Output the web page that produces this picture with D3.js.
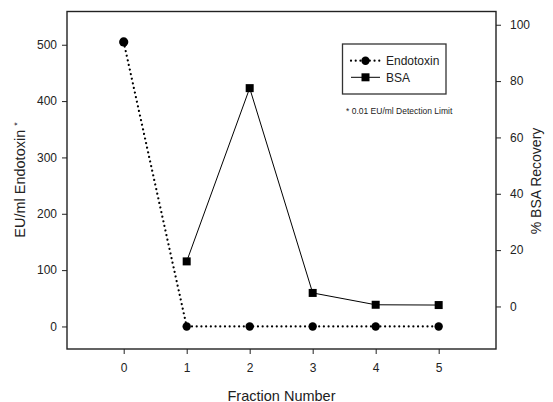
<!DOCTYPE html>
<html>
<head>
<meta charset="utf-8">
<script src="https://cdn.jsdelivr.net/npm/d3@7"></script>
<style>
  body { margin: 0; background: #fff; }
  svg { display: block; font-family: "Liberation Sans", Arial, sans-serif; }
  .tick text { font-size: 12px; fill: #222; }
  .tick line { stroke: #222; }
</style>
</head>
<body>
<svg id="vis" width="553" height="402"></svg>
<script>
// fractions and measured values
const fractions = [0, 1, 2, 3, 4, 5];
const endotoxin = [505, 0, 0, 0, 0, 0];        // EU/ml
const bsaFractions = [1, 2, 3, 4, 5];
const bsaRecovery = [16, 77.5, 4.8, 0.6, 0.5]; // %

const xTicks = [0, 1, 2, 3, 4, 5];
const leftTicks = [0, 100, 200, 300, 400, 500];
const rightTicks = [0, 20, 40, 60, 80, 100];

const svg = d3.select("svg#vis");

const box = { left: 67, right: 496, top: 11.5, bottom: 349 };

const x = d3.scaleLinear().domain([-0.9, 5.91]).range([box.left, box.right]);
const yL = d3.scaleLinear().domain([-40, 559]).range([box.bottom, box.top]);
const yR = d3.scaleLinear().domain([-15.1, 104.7]).range([box.bottom, box.top]);

// axes
const gx = svg.append("g")
  .attr("transform", "translate(0," + box.bottom + ")")
  .call(d3.axisBottom(x).tickValues(xTicks).tickFormat(d3.format("d"))
    .tickSize(5).tickPadding(9.5));
gx.select(".domain").remove();

const gl = svg.append("g")
  .attr("transform", "translate(" + box.left + ",0)")
  .call(d3.axisLeft(yL).tickValues(leftTicks).tickFormat(d3.format("d"))
    .tickSize(5).tickPadding(5));
gl.select(".domain").remove();

const gr = svg.append("g")
  .attr("transform", "translate(" + box.right + ",0)")
  .call(d3.axisRight(yR).tickValues(rightTicks).tickFormat(d3.format("d"))
    .tickSize(5).tickPadding(9));
gr.select(".domain").remove();

svg.selectAll(".tick text").attr("font-family", null);

// frame
svg.append("rect")
  .attr("x", box.left)
  .attr("y", box.top)
  .attr("width", box.right - box.left)
  .attr("height", box.bottom - box.top)
  .attr("fill", "none")
  .attr("stroke", "#222")
  .attr("stroke-width", 1.4);

// endotoxin series (dotted)
const endoData = fractions.map((f, i) => ({ x: f, y: endotoxin[i] }));
const endoLine = d3.line().x(d => x(d.x)).y(d => yL(d.y));

svg.append("path")
  .datum(endoData)
  .attr("d", endoLine)
  .attr("fill", "none")
  .attr("stroke", "#000")
  .attr("stroke-width", 2.2)
  .attr("stroke-linecap", "round")
  .attr("stroke-dasharray", "0.01,4.7");

svg.selectAll("circle.endo")
  .data(endoData)
  .enter()
  .append("circle")
  .attr("class", "endo")
  .attr("cx", d => x(d.x))
  .attr("cy", d => yL(d.y))
  .attr("r", (d, i) => i === 0 ? 4.6 : 4.2)
  .attr("fill", "#000");

// BSA series (solid)
const bsaData = bsaFractions.map((f, i) => ({ x: f, y: bsaRecovery[i] }));
const bsaLine = d3.line().x(d => x(d.x)).y(d => yR(d.y));

svg.append("path")
  .datum(bsaData)
  .attr("d", bsaLine)
  .attr("fill", "none")
  .attr("stroke", "#000")
  .attr("stroke-width", 1);

svg.selectAll("rect.bsa")
  .data(bsaData)
  .enter()
  .append("rect")
  .attr("class", "bsa")
  .attr("x", d => x(d.x) - 4)
  .attr("y", d => yR(d.y) - 4)
  .attr("width", 8)
  .attr("height", 8)
  .attr("fill", "#000");

// axis titles
svg.append("text")
  .attr("transform", "translate(25,180) rotate(-90)")
  .attr("text-anchor", "middle")
  .style("font-size", "14.5px")
  .attr("fill", "#222")
  .text("EU/ml Endotoxin ")
  .append("tspan")
  .attr("dy", -5)
  .style("font-size", "9px")
  .text("*");

svg.append("text")
  .attr("transform", "translate(540.5,181) rotate(-90)")
  .attr("text-anchor", "middle")
  .style("font-size", "14px")
  .attr("fill", "#222")
  .text("% BSA Recovery");

svg.append("text")
  .attr("x", (box.left + box.right) / 2)
  .attr("y", 400.5)
  .attr("text-anchor", "middle")
  .style("font-size", "14.5px")
  .attr("fill", "#222")
  .text("Fraction Number");

// legend
const legend = svg.append("g").attr("id", "legend");
legend.append("rect")
  .attr("x", 342.5)
  .attr("y", 44)
  .attr("width", 103.5)
  .attr("height", 50)
  .attr("fill", "#fff")
  .attr("stroke", "#333")
  .attr("stroke-width", 1.3);

legend.append("line")
  .attr("x1", 351).attr("x2", 380)
  .attr("y1", 60.7).attr("y2", 60.7)
  .attr("stroke", "#000")
  .attr("stroke-width", 2.2)
  .attr("stroke-linecap", "round")
  .attr("stroke-dasharray", "0.01,4.7");
legend.append("circle")
  .attr("cx", 365.5).attr("cy", 60.7).attr("r", 4.2).attr("fill", "#000");
legend.append("text")
  .attr("x", 386).attr("y", 65)
  .style("font-size", "12px").attr("fill", "#222")
  .text("Endotoxin");

legend.append("line")
  .attr("x1", 351).attr("x2", 380)
  .attr("y1", 77.3).attr("y2", 77.3)
  .attr("stroke", "#000")
  .attr("stroke-width", 1);
legend.append("rect")
  .attr("x", 361.5).attr("y", 73.3).attr("width", 8).attr("height", 8).attr("fill", "#000");
legend.append("text")
  .attr("x", 386).attr("y", 81.6)
  .style("font-size", "12px").attr("fill", "#222")
  .text("BSA");

svg.append("text")
  .attr("x", 346).attr("y", 113.5)
  .style("font-size", "8.5px").attr("fill", "#222")
  .text("* 0.01 EU/ml Detection Limit");
</script>
</body>
</html>
